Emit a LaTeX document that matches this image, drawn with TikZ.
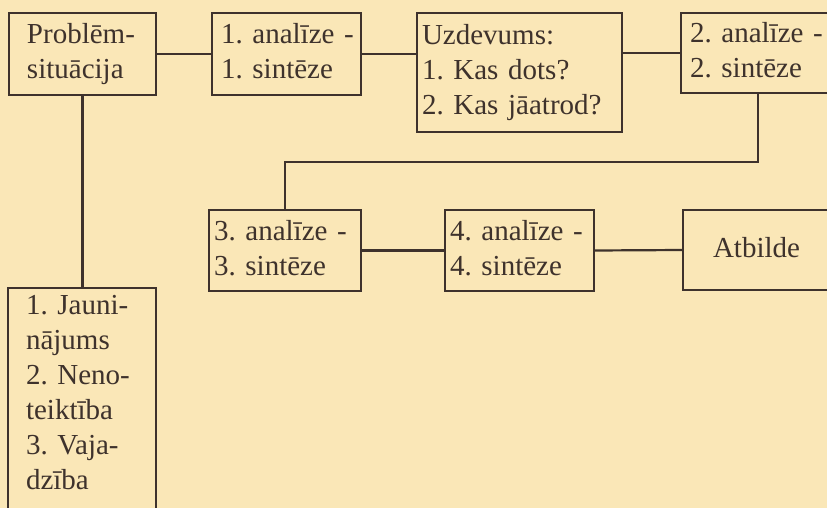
\documentclass[tikz,border=0pt]{standalone}
\usepackage{fontspec}
\setmainfont{Liberation Serif}
\frenchspacing
\definecolor{paper}{RGB}{250,231,183}
\definecolor{ink}{RGB}{62,50,44}
\begin{document}
\begin{tikzpicture}[x=1pt,y=-1pt,
  box/.style={draw=ink, line width=2.2pt, rectangle, align=left, inner ysep=0pt,
    text=ink, font=\fontsize{29}{35}\selectfont\frenchspacing},
  link/.style={draw=ink, line width=2.2pt}]
\fill[paper] (0,0) rectangle (827,508);
\useasboundingbox (0,0) rectangle (827,508);
\clip (0,0) rectangle (827,508);
\node[box, minimum width=147pt, minimum height=82pt, inner xsep=18pt, text width=111pt]
  (prob) at (82.5,54) {\strut Problēm-\\\strut situācija};
\node[box, minimum width=149pt, minimum height=82pt, inner xsep=9pt, text width=131pt]
  (a1) at (286.5,54) {\strut\mbox{1. analīze -}\\\strut 1. sintēze};
\node[box, minimum width=205pt, minimum height=119pt, inner xsep=5pt, text width=195pt]
  (uzd) at (519.5,72.5) {\strut Uzdevums:\\\strut 1. Kas dots?\\\strut 2. Kas jāatrod?};
\node[box, minimum width=154pt, minimum height=80pt, inner xsep=9pt, text width=136pt]
  (a2) at (758,53) {\strut\mbox{2. analīze -}\\\strut 2. sintēze};
\node[box, minimum width=152pt, minimum height=81pt, inner xsep=5pt, text width=142pt]
  (a3) at (285,250.5) {\strut\mbox{3. analīze -}\\\strut 3. sintēze};
\node[box, minimum width=149pt, minimum height=81pt, inner xsep=5pt, text width=139pt]
  (a4) at (519.5,250.5) {\strut\mbox{4. analīze -}\\\strut 4. sintēze};
\node[box, minimum width=160pt, minimum height=80pt, inner xsep=30pt, text width=100pt]
  (atb) at (763,250) {\strut Atbilde};
\node[box, anchor=north, minimum width=148pt, inner xsep=18pt, inner ysep=1.5pt, text width=112pt]
  (jau) at (82,287) {\strut 1. Jauni-\\\strut nājums\\\strut 2. Neno-\\\strut teiktība\\\strut 3. Vaja-\\\strut dzība\\\strut};
\coordinate (bend) at (0,162);
\draw[link] (prob.east) -- (a1.west);
\draw[link] (a1.east) -- (a1.east -| uzd.west);
\draw[link] (a2.west) -- (a2.west -| uzd.east);
\draw[link] (a2.south) -- (a2.south |- bend) -- (a3.north |- bend) -- (a3.north);
\draw[link] (a3.east) -- (a4.west);
\draw[link] (a4.east) -- (atb.west);
\draw[link] (prob.south) -- (prob.south |- jau.north);
\end{tikzpicture}
\end{document}
